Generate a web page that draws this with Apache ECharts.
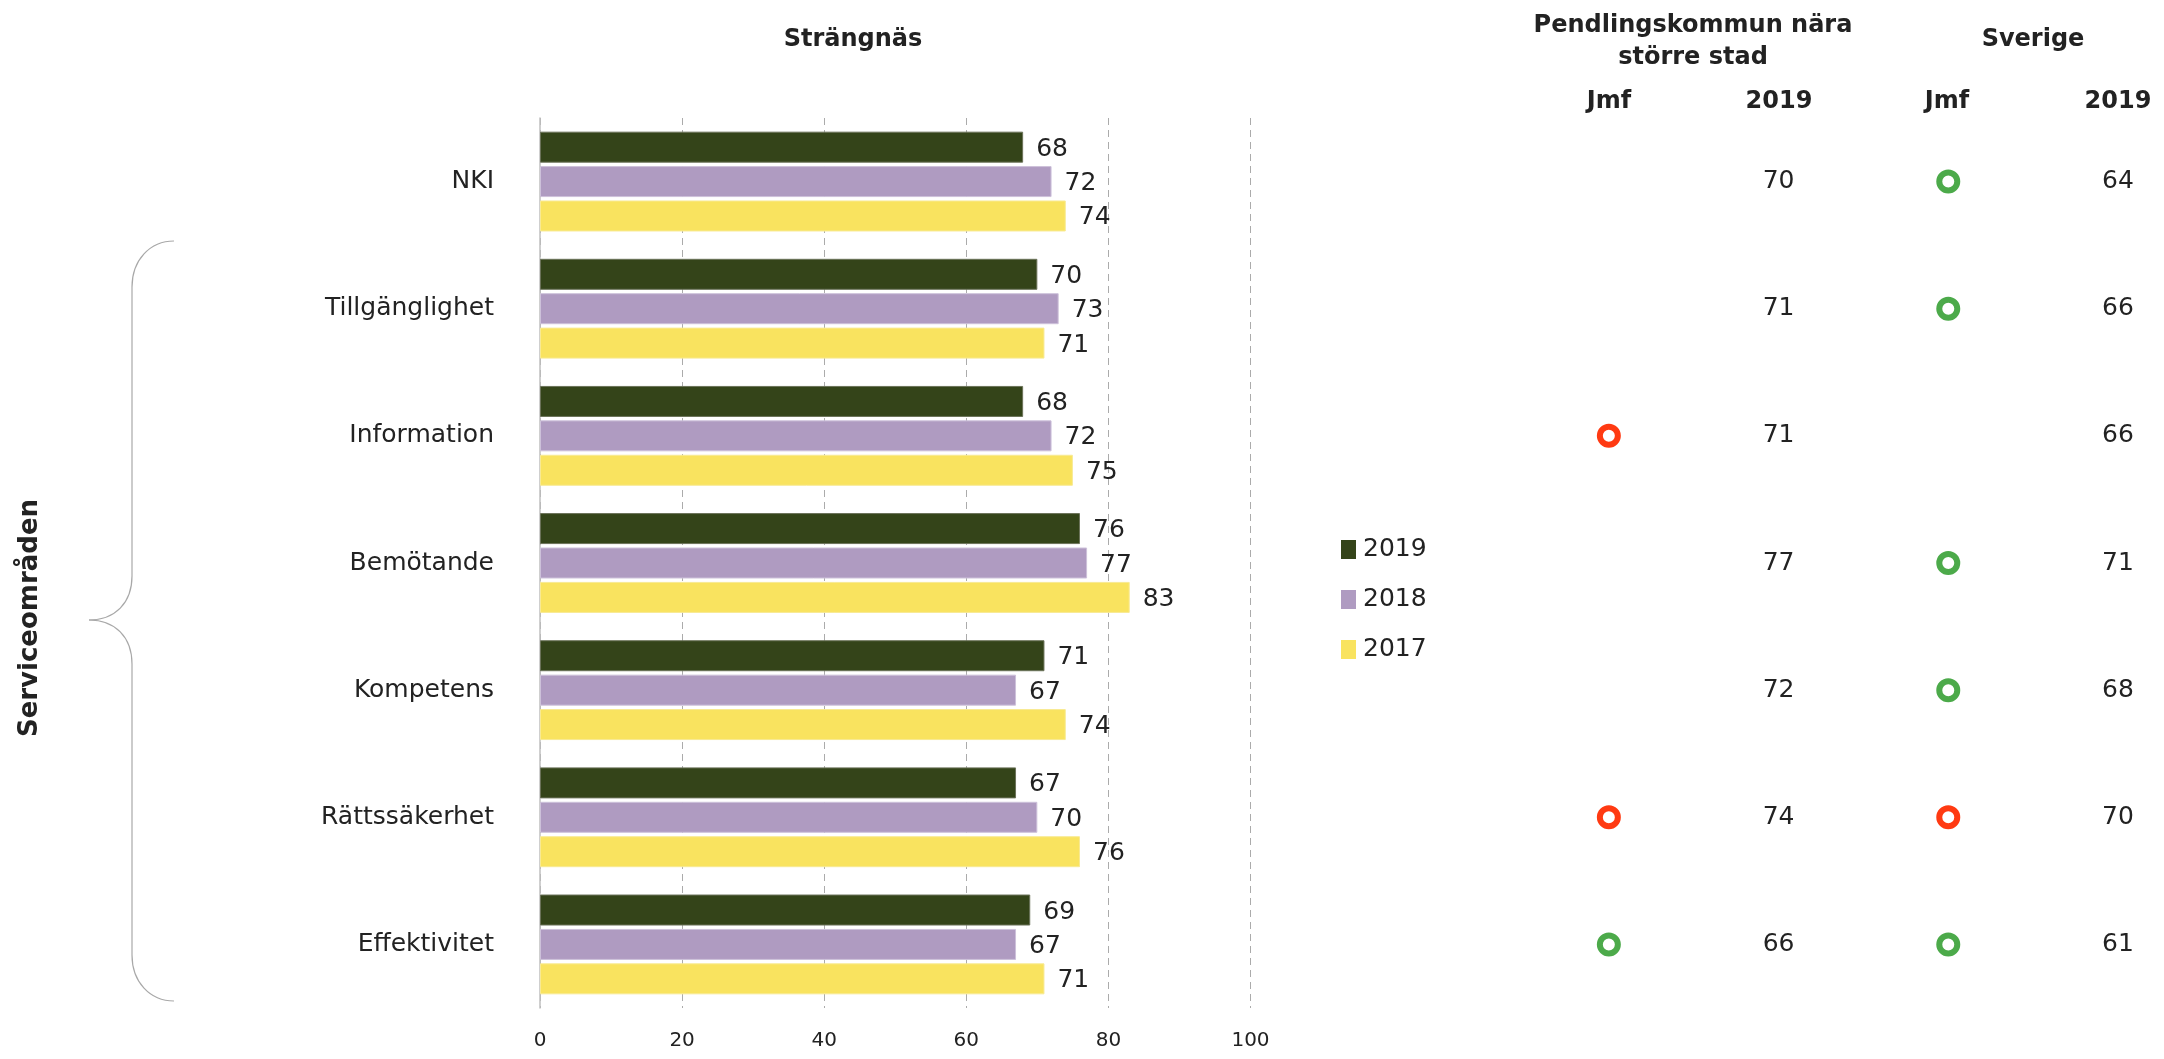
<!DOCTYPE html>
<html>
<head>
<meta charset="utf-8">
<script src="https://cdn.jsdelivr.net/npm/echarts@6/dist/echarts.min.js"></script>
<style>
html,body{margin:0;padding:0;background:#fff;}
#chart{width:2164px;height:1059px;}
</style>
</head>
<body>
<div id="chart"></div>
<script>
// ---- data ----
var categories = ['NKI', 'Tillgänglighet', 'Information', 'Bemötande', 'Kompetens', 'Rättssäkerhet', 'Effektivitet'];
var seriesNames = ['2019', '2018', '2017'];
var values2019 = [68, 70, 68, 76, 71, 67, 69];
var values2018 = [72, 73, 72, 77, 67, 70, 67];
var values2017 = [74, 71, 75, 83, 74, 76, 71];
var xTicks = [0, 20, 40, 60, 80, 100];
// comparison columns
var pendlingJmf = ['', '', 'lower', '', '', 'lower', 'higher'];
var pendling2019 = [70, 71, 71, 77, 72, 74, 66];
var sverigeJmf = ['higher', 'higher', '', 'higher', 'higher', 'lower', 'higher'];
var sverige2019 = [64, 66, 66, 71, 68, 70, 61];
var columnHeaders = ['Jmf', '2019', 'Jmf', '2019'];

// ---- styles ----
var FONT = 'DejaVu Sans';
var TXT = '#222222';
var barColors = ['#344419', '#AF9BC1', '#F9E35F'];
var jmfColors = { higher: '#4CAA4A', lower: '#FF3A12' };

var chart = echarts.init(document.getElementById('chart'), null, { renderer: 'canvas' });

function barSeries(name, data, color, border) {
  return {
    name: name, type: 'bar', xAxisIndex: 0, yAxisIndex: 0,
    data: data, barWidth: 31, barGap: '11%',
    itemStyle: { color: color, borderColor: border, borderWidth: 1 },
    label: { show: true, position: 'right', distance: 13, color: TXT, fontFamily: FONT, fontSize: 25, offset: [0, 2] },
    emphasis: { disabled: true }, animation: false
  };
}

function jmfData(col, arr) {
  var out = [];
  arr.forEach(function (c, i) {
    if (c) out.push({ value: [col, categories[i]], itemStyle: { borderColor: jmfColors[c] } });
  });
  return out;
}
function numData(col, arr) {
  return arr.map(function (v, i) { return [col, categories[i], v]; });
}

function hdr(text, x, y, extra) {
  var s = { text: text, textAlign: 'center', textVerticalAlign: 'middle', fill: TXT, font: 'bold 24px "DejaVu Sans"' };
  if (extra) for (var k in extra) s[k] = extra[k];
  return { type: 'text', x: x, y: y, style: s, silent: true };
}
var braceStyle = { fill: null, stroke: '#A8A8A8', lineWidth: 1.2 };
function bez(x1, y1, c1x, c1y, c2x, c2y, x2, y2) {
  return { type: 'bezierCurve', shape: { x1: x1, y1: y1, cpx1: c1x, cpy1: c1y, cpx2: c2x, cpy2: c2y, x2: x2, y2: y2 }, style: braceStyle, silent: true };
}
function ln(x1, y1, x2, y2) {
  return { type: 'line', shape: { x1: x1, y1: y1, x2: x2, y2: y2 }, style: braceStyle, silent: true };
}

var numLabel = { show: true, position: 'inside', color: TXT, fontFamily: FONT, fontSize: 25,
  formatter: function (p) { return p.value[2]; } };

var option = {
  backgroundColor: '#ffffff',
  animation: false,
  textStyle: { fontFamily: FONT },
  legend: {
    data: seriesNames,
    orient: 'vertical',
    left: 1336, top: 532,
    itemWidth: 15, itemHeight: 19, itemGap: 25,
    icon: 'rect',
    itemStyle: { borderWidth: 0 },
    textStyle: { color: TXT, fontFamily: FONT, fontSize: 25, padding: [0, 0, 0, 2] },
    selectedMode: false
  },
  grid: [
    { left: 540, right: 913.5, top: 118, bottom: 51, containLabel: false },
    { left: 1524, width: 636.4, top: 118, bottom: 51, containLabel: false }
  ],
  xAxis: [
    {
      gridIndex: 0, type: 'value', min: xTicks[0], max: xTicks[xTicks.length - 1], interval: 20,
      axisLine: { show: false }, axisTick: { show: false },
      axisLabel: { color: TXT, fontFamily: FONT, fontSize: 20, margin: 23 },
      splitLine: { show: true, lineStyle: { color: '#ABABAB', type: [7, 5], width: 1 } }
    },
    { gridIndex: 1, type: 'value', min: 0.5, max: 4.25, show: false, splitLine: { show: false } }
  ],
  yAxis: [
    {
      gridIndex: 0, type: 'category', data: categories, inverse: true,
      axisLine: { show: true, lineStyle: { color: '#BFBFBF', width: 1.5 } },
      axisTick: { show: false },
      axisLabel: { color: TXT, fontFamily: FONT, fontSize: 25, margin: 46 }
    },
    { gridIndex: 1, type: 'category', data: categories, inverse: true, show: false }
  ],
  series: [
    barSeries(seriesNames[0], values2019, barColors[0], '#6b7259'),
    barSeries(seriesNames[1], values2018, barColors[1], '#cdc1da'),
    barSeries(seriesNames[2], values2017, barColors[2], '#f8ea93'),
    {
      name: 'pendlingJmf', type: 'scatter', xAxisIndex: 1, yAxisIndex: 1,
      data: jmfData(1, pendlingJmf), symbol: 'circle', symbolSize: 18,
      itemStyle: { color: '#ffffff', borderWidth: 6, opacity: 1 }, silent: true
    },
    {
      name: 'sverigeJmf', type: 'scatter', xAxisIndex: 1, yAxisIndex: 1,
      data: jmfData(3, sverigeJmf), symbol: 'circle', symbolSize: 18,
      itemStyle: { color: '#ffffff', borderWidth: 6, opacity: 1 }, silent: true
    },
    {
      name: 'pendling2019', type: 'scatter', xAxisIndex: 1, yAxisIndex: 1,
      data: numData(2, pendling2019), symbolSize: 1, silent: true,
      itemStyle: { opacity: 1, color: 'rgba(0,0,0,0)' }, label: numLabel
    },
    {
      name: 'sverige2019', type: 'scatter', xAxisIndex: 1, yAxisIndex: 1,
      data: numData(4, sverige2019), symbolSize: 1, silent: true,
      itemStyle: { opacity: 1, color: 'rgba(0,0,0,0)' }, label: numLabel
    }
  ],
  graphic: [
    hdr('Strängnäs', 853, 40),
    hdr('Pendlingskommun nära\nstörre stad', 1693, 42, { lineHeight: 32 }),
    hdr('Sverige', 2033, 40),
    hdr(columnHeaders[0], 1609, 102),
    hdr(columnHeaders[1], 1779, 102),
    hdr(columnHeaders[2], 1947, 102),
    hdr(columnHeaders[3], 2118, 102),
    { type: 'text', x: 30, y: 618, rotation: Math.PI / 2, silent: true,
      style: { text: 'Serviceområden', textAlign: 'center', textVerticalAlign: 'middle', fill: TXT, font: 'bold 26px "DejaVu Sans"' } },
    bez(174, 241, 150, 241, 132, 260, 132, 287),
    ln(132, 287, 132, 576),
    bez(132, 576, 132, 603, 115, 620, 89, 620),
    bez(89, 620, 115, 620, 132, 637, 132, 664),
    ln(132, 664, 132, 955),
    bez(132, 955, 132, 982, 150, 1001, 174, 1001)
  ]
};
chart.setOption(option);
</script>
</body>
</html>
